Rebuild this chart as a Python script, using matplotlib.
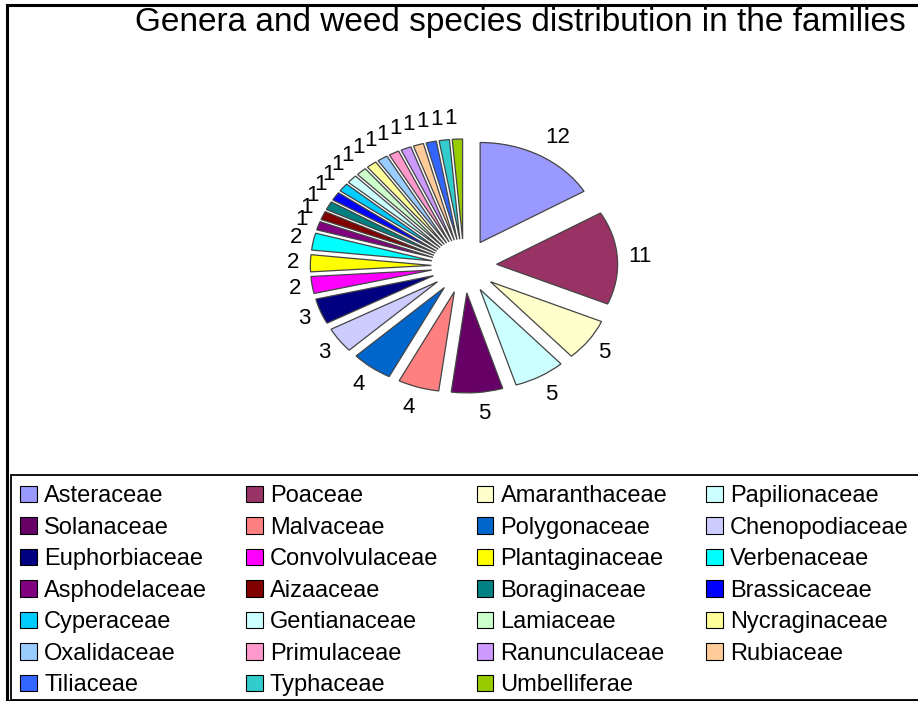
import matplotlib

matplotlib.use("Agg")
import matplotlib.pyplot as plt
import numpy as np
from matplotlib.patches import Patch, Rectangle

plt.rcParams["font.family"] = ["Liberation Sans", "DejaVu Sans"]

families = [
    "Asteraceae", "Poaceae", "Amaranthaceae", "Papilionaceae",
    "Solanaceae", "Malvaceae", "Polygonaceae", "Chenopodiaceae",
    "Euphorbiaceae", "Convolvulaceae", "Plantaginaceae", "Verbenaceae",
    "Asphodelaceae", "Aizaaceae", "Boraginaceae", "Brassicaceae",
    "Cyperaceae", "Gentianaceae", "Lamiaceae", "Nycraginaceae",
    "Oxalidaceae", "Primulaceae", "Ranunculaceae", "Rubiaceae",
    "Tiliaceae", "Typhaceae", "Umbelliferae",
]
counts = [12, 11, 5, 5, 5, 4, 4, 3, 3, 2, 2, 2,
          1, 1, 1, 1, 1, 1, 1, 1, 1, 1, 1, 1, 1, 1, 1]
colors = [
    "#9999FF", "#993366", "#FFFFCC", "#CCFFFF",
    "#660066", "#FF8080", "#0066CC", "#CCCCFF",
    "#000080", "#FF00FF", "#FFFF00", "#00FFFF",
    "#800080", "#800000", "#008080", "#0000FF",
    "#00CCFF", "#CCFFFF", "#CCFFCC", "#FFFF99",
    "#99CCFF", "#FF99CC", "#CC99FF", "#FFCC99",
    "#3366FF", "#33CCCC", "#99CC00",
]

W, H = 918, 701
fig = plt.figure(figsize=(W / 100, H / 100), dpi=100)

# outer chart border and legend box (pixel coords -> figure fraction)
fig.add_artist(Rectangle((7 / W, 0), 1.2, (H - 5) / H, transform=fig.transFigure,
                         fill=False, edgecolor="black", lw=2.2))
fig.add_artist(Rectangle((11 / W, 1 / H), 1.2, (H - 475 - 1) / H, transform=fig.transFigure,
                         fill=False, edgecolor="black", lw=1.3))

fig.text(906 / W, 1 - 23 / H, "Genera and weed species distribution in the families",
         ha="right", va="center", fontsize=24)

# pie: centre at (464, 266) px, radius 121 px wide, 100 px tall (stretched)
cx, cy, rx, ry = 464, 266, 121, 100
aw, ah = 400, 360
ax = fig.add_axes([(cx - aw / 2) / W, (H - cy - ah / 2) / H, aw / W, ah / H])
wedges, texts = ax.pie(counts, labels=[str(c) for c in counts], colors=colors,
                       explode=[0.27] * len(counts), startangle=90, counterclock=False,
                       labeldistance=1.22, wedgeprops=dict(edgecolor="#444444", lw=0.9),
                       textprops=dict(fontsize=16))
ax.set_aspect("auto")
ax.set_xlim(-aw / 2 / rx, aw / 2 / rx)
ax.set_ylim(-ah / 2 / ry, ah / 2 / ry)
ax.axis("off")

# labels sit a fixed pixel distance off the slice, not scaled with the stretch
lab_x, lab_y = 132, 121
for w, t in zip(wedges, texts):
    ang = np.deg2rad((w.theta1 + w.theta2) / 2)
    x0, y0 = w.center
    t.set_position((x0 + lab_x / rx * np.cos(ang), y0 + lab_y / ry * np.sin(ang)))

# legend fills row by row in the reference, matplotlib fills column by column
handles = [Patch(facecolor=c, edgecolor="black", lw=0.8, label=f)
           for f, c in zip(families, colors)]
ncol = 4
order = [i for c in range(ncol) for i in range(c, len(handles), ncol)]
fig.legend(handles=[handles[i] for i in order], loc="upper left",
           bbox_to_anchor=(11 / W, 1 - 476 / H), ncol=ncol, frameon=False,
           fontsize=17, handlelength=0.7, handleheight=0.7, handletextpad=0.3,
           columnspacing=1.65, labelspacing=0.4, borderaxespad=0)

fig.savefig("out.png", dpi=100)
